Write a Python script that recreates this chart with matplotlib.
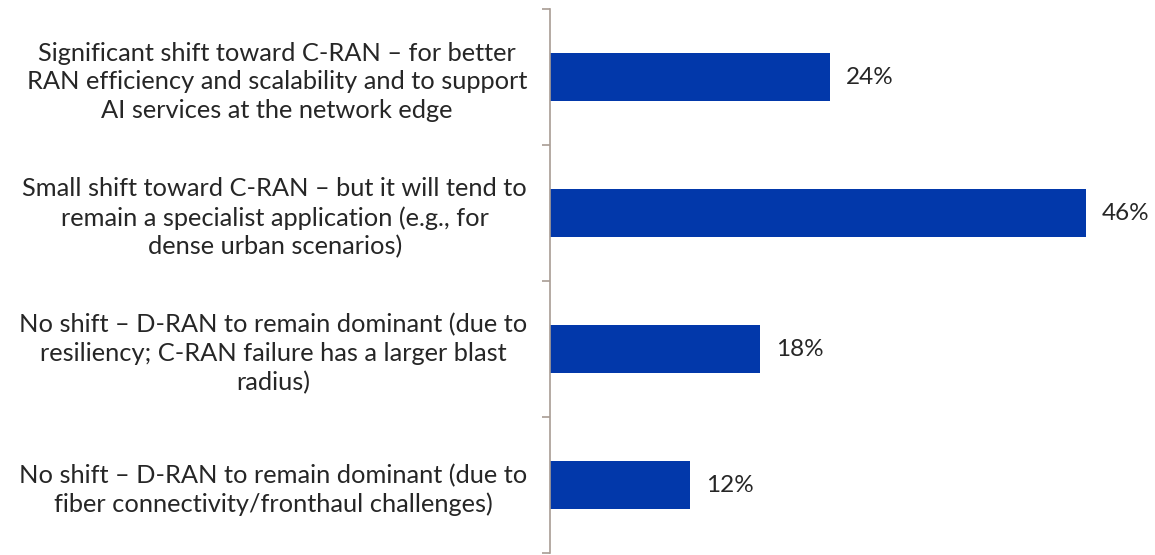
import matplotlib.pyplot as plt
from matplotlib.ticker import FixedLocator

plt.rcParams['font.family'] = ['Lato', 'DejaVu Sans']

categories = [
    "Significant shift toward C-RAN – for better\nRAN efficiency and scalability and to support\nAI services at the network edge",
    "Small shift toward C-RAN – but it will tend to\nremain a specialist application (e.g., for\ndense urban scenarios)",
    "No shift – D-RAN to remain dominant (due to\nresiliency; C-RAN failure has a larger blast\nradius)",
    "No shift – D-RAN to remain dominant (due to\nfiber connectivity/fronthaul challenges)",
]
values = [24, 46, 18, 12]
value_labels = ["24%", "46%", "18%", "12%"]

bar_color = "#0238AA"
text_color = "#262626"
axis_color = "#A89C94"

W, H = 1155, 555
fig = plt.figure(figsize=(W / 100, H / 100), dpi=100)
ax = fig.add_axes([550 / W, 2 / H, (W - 550) / W, 544 / H])

y = list(range(len(categories)))
ax.barh(y, values, height=0.36, color=bar_color)

ax.set_xlim(0, (W - 550) / 11.65)
ax.set_ylim(len(categories) - 0.5, -0.5)

for yi, v, lab in zip(y, values, value_labels):
    ax.annotate(lab, (v, yi), xytext=(11.5, 0), textcoords="offset points",
                ha="left", va="center", fontsize=17.5, color=text_color)

for s in ["top", "right", "bottom"]:
    ax.spines[s].set_visible(False)
ax.spines["left"].set_color(axis_color)
ax.spines["left"].set_linewidth(1.2)

ax.set_xticks([])
ax.set_yticks(y)
ax.set_yticklabels(categories, fontsize=18.3, color=text_color,
                   multialignment="center", linespacing=1.3)
ax.tick_params(axis="y", which="major", length=0, pad=16.5)
ax.yaxis.set_minor_locator(FixedLocator([i - 0.5 for i in range(len(categories) + 1)]))
ax.tick_params(axis="y", which="minor", length=6, width=1.2, color=axis_color)

fig.savefig("out.png", dpi=100)
